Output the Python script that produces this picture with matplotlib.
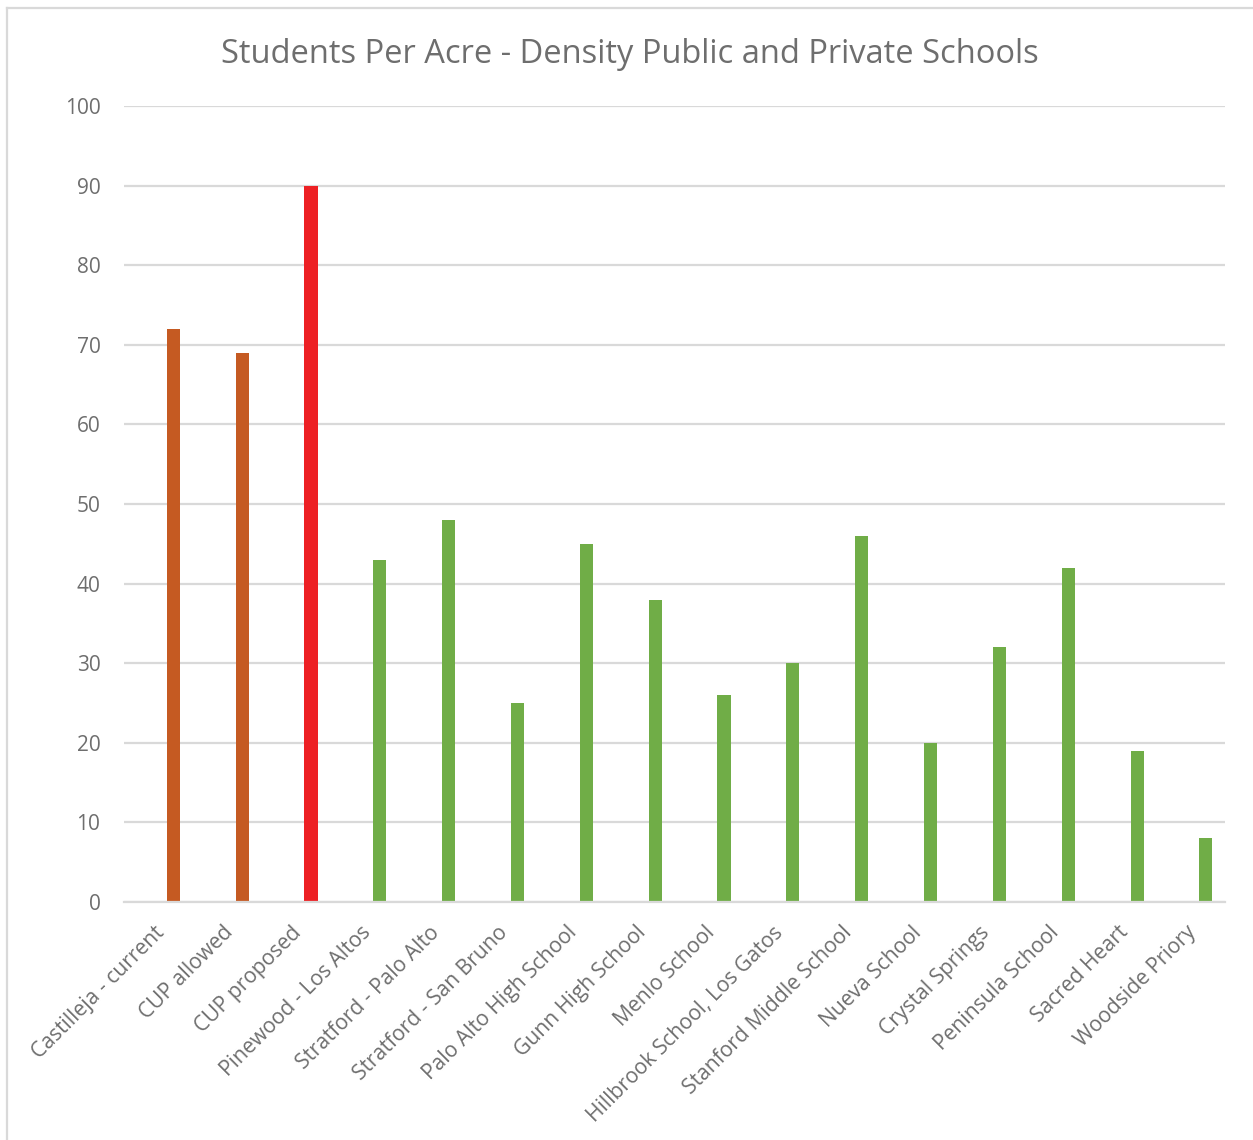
import matplotlib.pyplot as plt
import numpy as np
from matplotlib.lines import Line2D
from matplotlib.transforms import ScaledTranslation

# data
schools = ['Castilleja - current', 'CUP allowed', 'CUP proposed', 'Pinewood - Los Altos',
           'Stratford - Palo Alto', 'Stratford - San Bruno', 'Palo Alto High School',
           'Gunn High School', 'Menlo School', 'Hillbrook School, Los Gatos',
           'Stanford Middle School', 'Nueva School', 'Crystal Springs', 'Peninsula School',
           'Sacred Heart', 'Woodside Priory']
density = [72, 69, 90, 43, 48, 25, 45, 38, 26, 30, 46, 20, 32, 42, 19, 8]
groups = ['castilleja', 'castilleja', 'proposed'] + ['other'] * 13
group_colors = {'castilleja': '#C55A22', 'proposed': '#ED2024', 'other': '#70AD47'}

text_col = '#6E6E6E'
grid_col = '#D9D9D9'
plt.rcParams['font.family'] = ['Open Sans', 'DejaVu Sans']

fig = plt.figure(figsize=(12.53, 11.4), dpi=100)
ax = fig.add_axes([0.099, 0.2088, 0.879, 0.6982])

x = np.arange(len(schools))
colors = [group_colors[g] for g in groups]
ax.bar(x + 0.216, density, width=0.19, color=colors, zorder=3)

ax.set_xlim(-0.5, len(schools) - 0.5)
ax.set_ylim(0, 100)
ax.set_yticks(np.arange(0, 101, 10))
ax.yaxis.grid(True, color=grid_col, linewidth=1.6, zorder=0)
ax.tick_params(axis='y', length=0, pad=17, labelsize=15, labelcolor=text_col)
ax.tick_params(axis='x', length=0, pad=8)
ax.set_xticks(x)
ax.set_xticklabels(schools, rotation=45, ha='right', va='top', rotation_mode='anchor',
                   fontsize=15.2, color=text_col)
shift = ScaledTranslation(-5 / 100, -9 / 100, fig.dpi_scale_trans)
for lab in ax.get_xticklabels():
    lab.set_transform(lab.get_transform() + shift)
for s in ['top', 'right', 'left']:
    ax.spines[s].set_visible(False)
ax.spines['bottom'].set_color(grid_col)
ax.spines['bottom'].set_linewidth(1.6)
ax.spines['bottom'].set_zorder(4)

fig.text(0.503, 0.952, 'Students Per Acre - Density Public and Private Schools',
         ha='center', va='center', fontsize=23.5, color=text_col)

# chart frame (only top and left edges visible)
fig.add_artist(Line2D([7 / 1253, 7 / 1253], [0, 1 - 8 / 1140], color=grid_col, lw=1.6))
fig.add_artist(Line2D([7 / 1253, 1], [1 - 8 / 1140, 1 - 8 / 1140], color=grid_col, lw=1.6))

fig.savefig('out.png', dpi=100)
